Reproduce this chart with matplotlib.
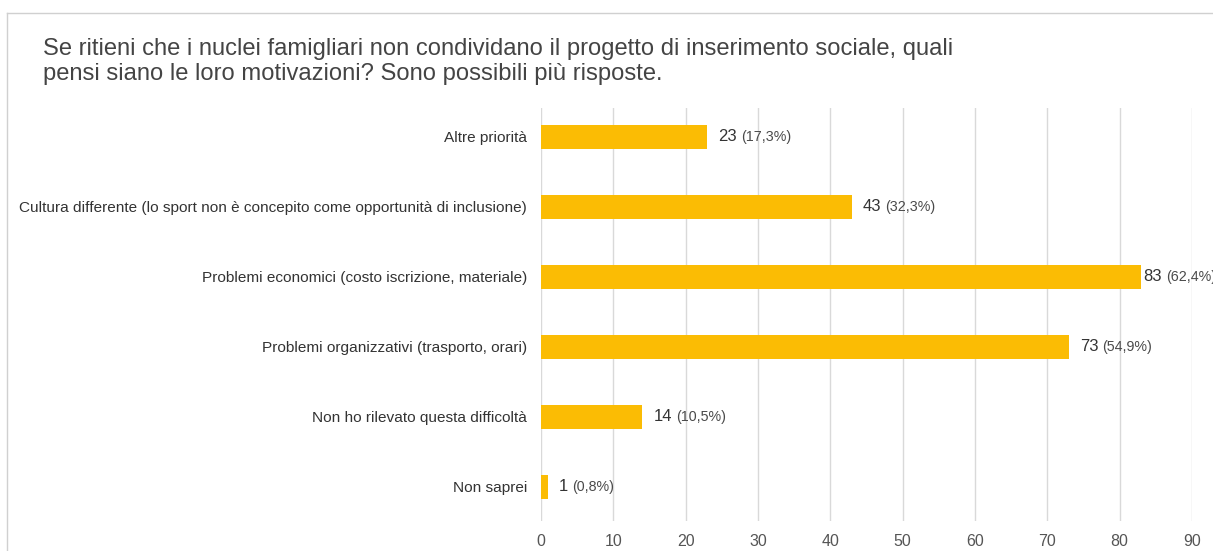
import matplotlib
matplotlib.use("Agg")
import matplotlib.pyplot as plt
from matplotlib.lines import Line2D
from matplotlib.transforms import offset_copy

plt.rcParams['font.family'] = ['Liberation Sans', 'DejaVu Sans']

# survey answers, top to bottom
categories = [
    "Altre priorità",
    "Cultura differente (lo sport non è concepito come opportunità di inclusione)",
    "Problemi economici (costo iscrizione, materiale)",
    "Problemi organizzativi (trasporto, orari)",
    "Non ho rilevato questa difficoltà",
    "Non saprei",
]
counts = [23, 43, 83, 73, 14, 1]
percents = ["17,3%", "32,3%", "62,4%", "54,9%", "10,5%", "0,8%"]
xticks = [0, 10, 20, 30, 40, 50, 60, 70, 80, 90]

title = ("Se ritieni che i nuclei famigliari non condividano il progetto di inserimento sociale, quali\n"
         "pensi siano le loro motivazioni? Sono possibili più risposte.")

bar_color = "#fbbc04"
grid_color = "#d9d9d9"

fig = plt.figure(figsize=(12.13, 5.51), dpi=100)
ax = fig.add_axes([541 / 1213, 1 - 521 / 551, 651 / 1213, 413 / 551])

ypos = list(range(len(categories)))
ax.barh(ypos, counts, height=0.34, color=bar_color, zorder=3)

ax.set_xlim(0, 90)
ax.set_ylim(5.49, -0.41)
ax.set_xticks(xticks)
ax.set_yticks(ypos)
ax.set_yticklabels(categories, fontsize=11.1, color="#333333")
ax.tick_params(axis="y", length=0, pad=10)
ax.tick_params(axis="x", length=0, pad=9, labelsize=11.5, labelcolor="#555555")
ax.xaxis.grid(True, color=grid_color, linewidth=1, zorder=0)
for s in ax.spines.values():
    s.set_visible(False)

# value labels: count followed by the percentage in a smaller font
fig.canvas.draw()
renderer = fig.canvas.get_renderer()
for y, c, p in zip(ypos, counts, percents):
    gap = 2 if c > 80 else 11
    t = ax.text(c, y, str(c), fontsize=12, color="#333333", va="center", ha="left",
                transform=offset_copy(ax.transData, fig=fig, x=gap, y=0, units="dots"))
    w = t.get_window_extent(renderer).width
    ax.text(c, y, "(" + p + ")", fontsize=10.3, color="#4a4a4a", va="center", ha="left",
            transform=offset_copy(ax.transData, fig=fig, x=gap + w + 4, y=0, units="dots"),
            clip_on=False)

fig.text(43 / 1213, 1 - 38 / 551, title, fontsize=17.1, color="#444444",
         va="top", ha="left", linespacing=1.2)

# light frame around the chart card
fig.add_artist(Line2D([7 / 1213, 1.0], [1 - 13 / 551] * 2, color="#d0d0d0", lw=1))
fig.add_artist(Line2D([7 / 1213] * 2, [0.0, 1 - 13 / 551], color="#d0d0d0", lw=1))

fig.savefig("out.png", dpi=100, facecolor="white")
